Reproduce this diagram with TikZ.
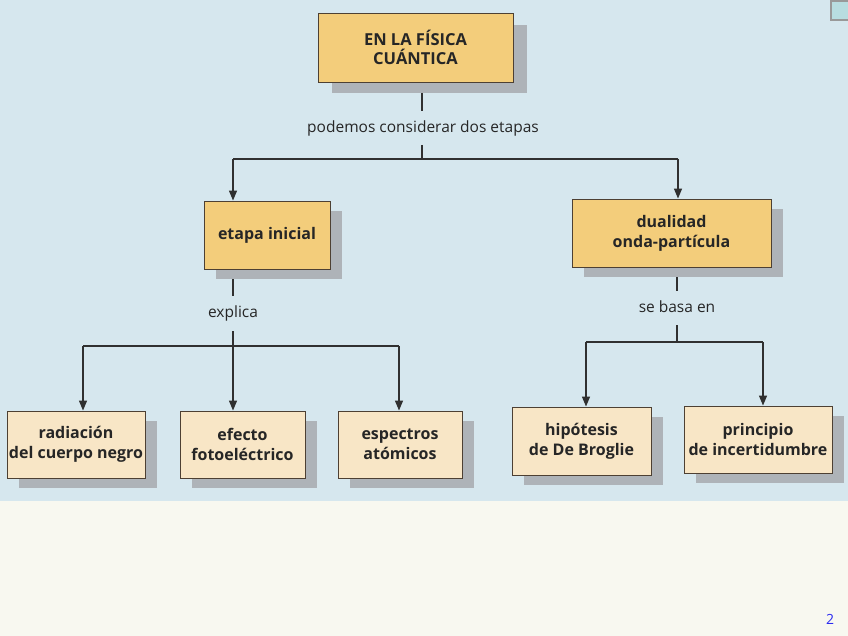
\documentclass[tikz,border=0pt]{standalone}
\usepackage{fontspec}
\setmainfont{Open Sans}
\usetikzlibrary{arrows.meta,positioning,calc}
\definecolor{slidebg}{HTML}{F8F8F0}
\definecolor{scanbg}{HTML}{D6E7EE}
\definecolor{boxorange}{HTML}{F3CD7B}
\definecolor{boxcream}{HTML}{F8E6C6}
\definecolor{shadowgray}{HTML}{AEB3B8}
\definecolor{linegray}{HTML}{303030}
\definecolor{txt}{HTML}{262626}
\definecolor{pagenum}{HTML}{2B2BF0}
\definecolor{sqfill}{HTML}{B8DDE0}
\begin{document}
\begin{tikzpicture}[x=1pt,y=-1pt,
  boxbase/.style={draw=linegray!80!brown, line width=0.9pt, text=txt, align=center,
     font=\fontsize{16}{20}\selectfont\bfseries, inner sep=0pt},
  mainbox/.style={boxbase, fill=boxorange},
  leafbox/.style={boxbase, fill=boxcream},
  lab/.style={text=txt, font=\fontsize{15.5}{18}\selectfont, inner sep=0pt},
  conn/.style={draw=linegray, line width=1.3pt},
  arr/.style={conn, -{Triangle[length=10pt,width=8pt]}}
]
\useasboundingbox (0,0) rectangle (848,636);
% backgrounds
\fill[slidebg] (0,0) rectangle (848,636);
\fill[scanbg] (0,0) rectangle (848,501);
% small square top right
\filldraw[fill=sqfill, draw=gray!80, line width=2.5pt] (831,1.2) rectangle (850,20);

% shadows
\fill[shadowgray] (332,25) rectangle (527,93);
\fill[shadowgray] (216,211) rectangle (342,279);
\fill[shadowgray] (584,209) rectangle (783,277);
\fill[shadowgray] (19,421) rectangle (157,488);
\fill[shadowgray] (192,421) rectangle (317,488);
\fill[shadowgray] (350,421) rectangle (474,488);
\fill[shadowgray] (524,417) rectangle (663,485);
\fill[shadowgray] (696,416) rectangle (844,483);

% boxes
\node[mainbox, minimum width=195pt, minimum height=69pt, font=\fontsize{16.5}{19}\selectfont\bfseries] (top) at (415.5,47.5) {EN LA FÍSICA\\CUÁNTICA};
\node[mainbox, minimum width=126pt, minimum height=68pt] (etapa) at (267,235) {etapa inicial};
\node[mainbox, minimum width=199pt, minimum height=68pt] (dual) at (671.5,233) {dualidad\\onda-partícula};
\node[leafbox, minimum width=138pt, minimum height=67pt] (rad) at (76,444.5) {radiación\\del cuerpo negro};
\node[leafbox, minimum width=125pt, minimum height=67pt] (efe) at (242.5,444.5) {efecto\\fotoeléctrico};
\node[leafbox, minimum width=124pt, minimum height=67pt] (esp) at (400,444.5) {espectros\\atómicos};
\node[leafbox, minimum width=139pt, minimum height=68pt] (hip) at (581.5,441) {hipótesis\\de De Broglie};
\node[leafbox, minimum width=148pt, minimum height=67pt] (pri) at (758,439.5) {principio\\de incertidumbre};

% labels
\node[lab] (l1) at (423,128) {podemos considerar dos etapas};
\node[lab] (l2) at (233,313) {explica};
\node[lab] (l3) at (677,307) {se basa en};

% connector coordinates
\coordinate (t1) at (422,93);
\coordinate (t2) at (422,111);
\coordinate (t3) at (422,145);
\coordinate (h1) at (422,159);
\coordinate (h1l) at (233,159);
\coordinate (h1r) at (678,159);
\coordinate (e1) at (233,279);
\coordinate (e2) at (233,296);
\coordinate (e3) at (233,331);
\coordinate (h2) at (233,346);
\coordinate (h2l) at (83,346);
\coordinate (h2r) at (399,346);
\coordinate (d1) at (677,277);
\coordinate (d2) at (677,291);
\coordinate (d3) at (677,325);
\coordinate (h3) at (677,342);
\coordinate (h3l) at (586,342);
\coordinate (h3r) at (763,342);

\draw[conn] (t1) -- (t2);
\draw[conn] (t3) -- (h1);
\draw[conn] (h1l) -- (h1r);
\draw[arr] (h1l) -- (h1l |- etapa.north);
\draw[arr] (h1r) -- (h1r |- dual.north);

\draw[conn] (e1) -- (e2);
\draw[conn] (e3) -- (h2);
\draw[conn] (h2l) -- (h2r);
\draw[arr] (h2l) -- (h2l |- rad.north);
\draw[arr] (h2) -- (h2 |- efe.north);
\draw[arr] (h2r) -- (h2r |- esp.north);

\draw[conn] (d1) -- (d2);
\draw[conn] (d3) -- (h3);
\draw[conn] (h3l) -- (h3r);
\draw[arr] (h3l) -- (h3l |- hip.north);
\draw[arr] (h3r) -- (h3r |- pri.north);

% page number
\node[text=pagenum, font=\fontsize{14}{14}\selectfont, inner sep=0pt] (pg) at (830,619) {2};
\end{tikzpicture}
\end{document}
